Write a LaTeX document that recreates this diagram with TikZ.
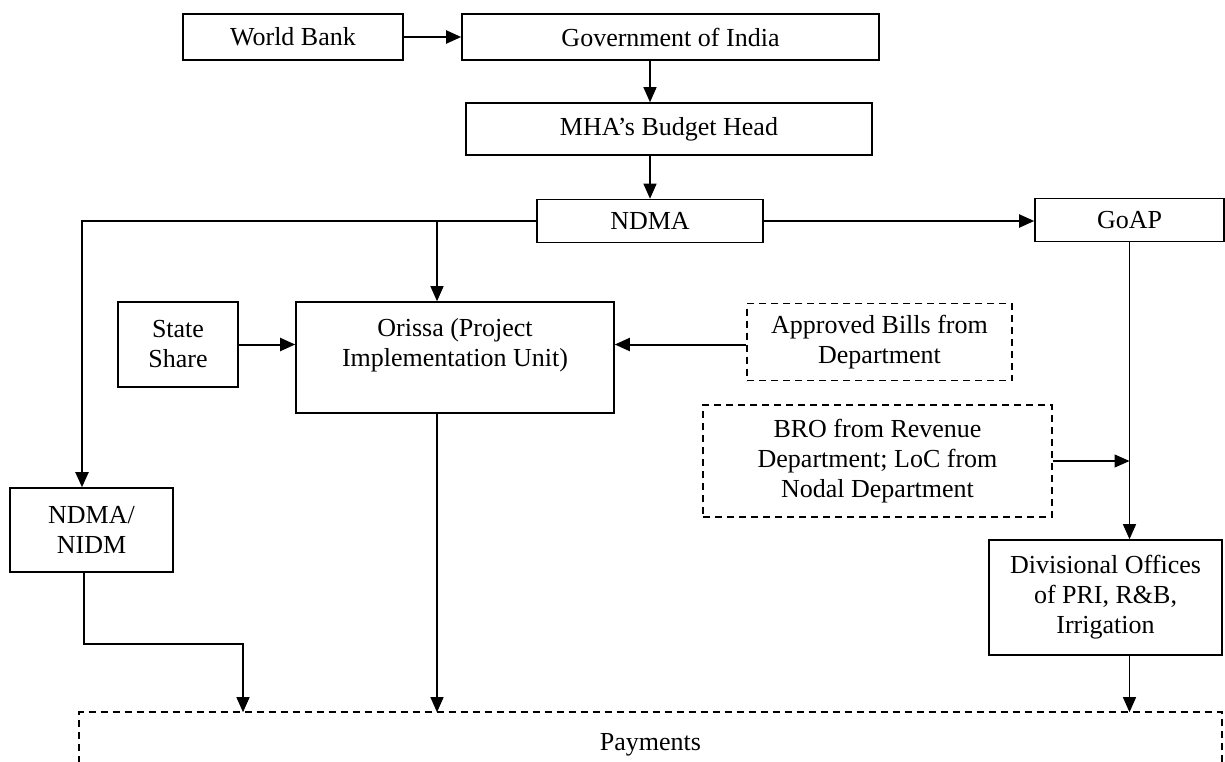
\documentclass[tikz,border=0pt]{standalone}
\usepackage{fontspec}
\setmainfont{Liberation Serif}
\usetikzlibrary{arrows.meta,calc}
\begin{document}
\begin{tikzpicture}[x=0.5pt,y=-0.5pt,
  box/.style={draw, line width=0.8pt, align=center, inner sep=0pt,
    font=\fontsize{13pt}{15pt}\selectfont},
  dbox/.style={box, dash pattern=on 3.5pt off 2.5pt, line width=0.9pt},
  arr/.style={-{Triangle[length=7.5pt,width=6.5pt]}, line width=0.6pt},
  tarr/.style={arr, line width=1pt},
  line/.style={line width=0.6pt}]
\useasboundingbox (0,0) rectangle (1225,761);
\clip (0,0) rectangle (1225,761);

\node[box, minimum width=110pt, minimum height=23pt] (wb) at (293,37) {World Bank};
\node[box, minimum width=208.5pt, minimum height=23pt] (goi) at (670.5,37) {Government of India};
\node[box, minimum width=203pt, minimum height=26pt] (mha) at (669,129) {MHA’s Budget Head};
\node[box, minimum width=113pt, minimum height=21.5pt] (ndma) at (650,221) {NDMA};
\node[box, minimum width=94.5pt, minimum height=21.5pt] (goap) at (1129.5,220) {GoAP};
\node[box, minimum width=60pt, minimum height=42.5pt] (state) at (178,344.5) {State\\Share};
\node[box, minimum width=159pt, minimum height=55.5pt] (orissa) at (455,357.5) {Orissa (Project\\Implementation Unit)\\\mbox{}};
\node[dbox, minimum width=132.5pt, minimum height=38.5pt] (approved) at (879.5,342) {Approved Bills from\\Department};
\node[dbox, minimum width=174.5pt, minimum height=56pt] (bro) at (877.5,461) {BRO from Revenue\\Department; LoC from\\Nodal Department};
\node[box, minimum width=81.5pt, minimum height=42pt] (nidm) at (91.5,530) {NDMA/\\NIDM};
\node[box, minimum width=116.5pt, minimum height=57.5pt] (div) at (1105.5,597.5) {Divisional Offices\\of PRI, R\&B,\\Irrigation};
\node[box, draw=none, minimum width=570.5pt, minimum height=24.5pt] (pay) at (650.5,737.5) {\raisebox{-3.5pt}[\height][\depth]{Payments}};
\draw[dash pattern=on 3.5pt off 2.5pt, line width=0.9pt]
  (pay.south west) -- (pay.north west) -- (pay.north east) -- (pay.south east);
\draw[dash pattern=on 3.5pt off 2.5pt, line width=0.6pt, gray!60]
  (pay.south east) -- ++(-126,0);

% connectors
\coordinate (lc) at (82,221);
\coordinate (ob) at (437,221);
\coordinate (e1) at (243,644);
\draw[tarr] (wb) -- (goi);
\draw[arr] (goi.south -| ndma.north) -- (mha.north -| ndma.north);
\draw[arr] (mha.south -| ndma.north) -- (ndma.north);
\draw[tarr] (ndma.west) -- (lc) -- (lc |- nidm.north);
\draw[arr] (ob) -- (ob |- orissa.north);
\draw[tarr] (ndma.east) -- (goap.west |- ndma.east);
\draw[tarr] (state.east) -- (orissa.west |- state.east);
\draw[tarr] (approved.west |- state.east) -- (orissa.east |- state.east);
\draw[arr] (goap.south) -- (goap.south |- div.north);
\draw[arr] (bro.east) -- (goap.south |- bro.east);
\draw[arr] ([xshift=-3.75pt]nidm.south) -- ([xshift=-3.75pt]nidm.south |- e1) -- (e1) -- (e1 |- pay.north);
\draw[arr] (ob |- orissa.south) -- (ob |- pay.north);
\draw[arr] (goap.south |- div.south) -- (goap.south |- pay.north);
\end{tikzpicture}
\end{document}
